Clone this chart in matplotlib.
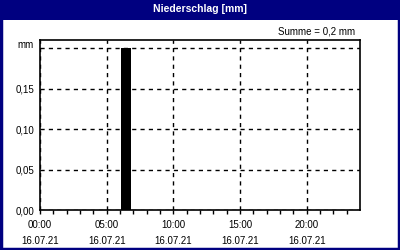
import numpy as np
import matplotlib
matplotlib.use("Agg")
import matplotlib.pyplot as plt
from matplotlib.patches import Rectangle

plt.rcParams['font.family'] = ['Liberation Sans', 'DejaVu Sans']

# hourly precipitation on 16.07.21 (mm)
hours = list(range(24))
rain = [0, 0, 0, 0, 0, 0, 0.2, 0, 0, 0, 0, 0,
        0, 0, 0, 0, 0, 0, 0, 0, 0, 0, 0, 0]
major_hours = [0, 5, 10, 15, 20]
date_label = "16.07.21"
y_ticks = [0.0, 0.05, 0.10, 0.15, 0.20]
y_labels = ["0,00", "0,05", "0,10", "0,15", ""]
total = "Summe = 0,2 mm"
title = "Niederschlag [mm]"

navy = "#000080"

fig = plt.figure(figsize=(4, 2.5), dpi=100)
fig.patch.set_facecolor("white")

# title bar and frame
fig.patches.append(Rectangle((0, 0.92), 1, 0.08, transform=fig.transFigure,
                             facecolor=navy, edgecolor="none", zorder=0))
fig.patches.append(Rectangle((0.002, 0.004), 0.996, 0.994, transform=fig.transFigure,
                             facecolor="none", edgecolor=navy, linewidth=2.5, zorder=1))
fig.text(0.5, 0.962, title, color="white", fontsize=7.5, fontweight="bold",
         ha="center", va="center")
fig.text(0.888, 0.876, total, fontsize=7, ha="right", va="center")

ax = fig.add_axes([0.1, 0.16, 0.8, 0.68])
ax.bar(np.array(hours) + 0.07, rain, width=0.76, align="edge",
       color="black", linewidth=0, zorder=3)

ax.set_xlim(0, 24)
ax.set_ylim(0, 0.21)

ax.set_xticks(major_hours)
ax.set_xticklabels([f"{h:02d}:00\n{date_label}" for h in major_hours], fontsize=7)
for lbl in ax.get_xticklabels():
    lbl.set_linespacing(1.75)
ax.set_xticks(hours, minor=True)
ax.tick_params(axis="x", which="both", direction="out", length=3, width=1, pad=4)

ax.set_yticks(y_ticks)
ax.set_yticklabels(y_labels, fontsize=7)
ax.tick_params(axis="y", length=0, pad=4)
ax.text(-0.02, 1.0, "mm", transform=ax.transAxes, fontsize=7,
        ha="right", va="top")

ax.grid(True, which="major", color="black", linestyle=(0, (3, 3)), linewidth=1)
for s in ax.spines.values():
    s.set_linewidth(1.2)
    s.set_color("black")

fig.savefig("out.png", dpi=100)
